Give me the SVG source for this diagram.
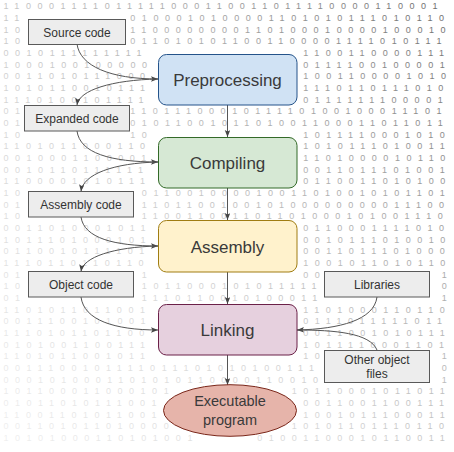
<svg xmlns="http://www.w3.org/2000/svg" width="454" height="452" viewBox="0 0 454 452">
<defs>
<linearGradient id="fade" gradientUnits="userSpaceOnUse" x1="0" y1="452" x2="454" y2="0">
<stop offset="0" stop-color="#f0f0f0"/>
<stop offset="0.4" stop-color="#d4d4d4"/>
<stop offset="0.7" stop-color="#a8a8a8"/>
<stop offset="1" stop-color="#6a6a6a"/>
</linearGradient>
<marker id="arr" markerUnits="userSpaceOnUse" markerWidth="8" markerHeight="7" refX="7" refY="2.75" orient="auto">
<path d="M0,0 L7,2.75 L0,5.5 L1.5,2.75 z" fill="#444"/>
</marker>
<style>
.bin{font-family:"Liberation Sans",Arial,sans-serif;font-size:9px;letter-spacing:6.53px;fill:url(#fade)}
.gbox{fill:#ededed;stroke:#595959;stroke-width:1}
.glbl{font-family:"Liberation Sans",Arial,sans-serif;font-size:12px;fill:#333;text-anchor:middle}
.big{font-family:"Liberation Sans",Arial,sans-serif;font-size:17px;fill:#3a3a3a;text-anchor:middle}
.ell{font-family:"Liberation Sans",Arial,sans-serif;font-size:14.5px;fill:#3a3a3a;text-anchor:middle}
.c{fill:none;stroke:#555;stroke-width:1;marker-end:url(#arr)}
.cn{fill:none;stroke:#555;stroke-width:1}
</style>
</defs>
<rect x="0" y="0" width="454" height="452" fill="#ffffff"/>
<g id="background">
<text class="bin" x="3.5" y="9.2">110001111011111000110011011110000110001</text>
<text class="bin" x="3.5" y="20.87">11</text><text class="bin" x="130.33" y="20.87">0100010100001101010111010110</text>
<text class="bin" x="3.5" y="32.54">10</text><text class="bin" x="130.33" y="32.54">1100000000110100010000100010</text>
<text class="bin" x="3.5" y="44.21">10</text><text class="bin" x="130.33" y="44.21">0110101011001100001111010111</text>
<text class="bin" x="3.5" y="55.88">0010111111111</text><text class="bin" x="303.28" y="55.88">1100110000111</text>
<text class="bin" x="3.5" y="67.55">1000100100000</text><text class="bin" x="303.28" y="67.55">0111100100001</text>
<text class="bin" x="3.5" y="79.22">0011010111000</text><text class="bin" x="303.28" y="79.22">1001100001010</text>
<text class="bin" x="3.5" y="90.89">1010110010111</text><text class="bin" x="303.28" y="90.89">1110110111010</text>
<text class="bin" x="3.5" y="102.56">1110100101111</text><text class="bin" x="303.28" y="102.56">0111111100001</text>
<text class="bin" x="3.5" y="114.23">01</text><text class="bin" x="130.33" y="114.23">1101110001011110100100011101</text>
<text class="bin" x="3.5" y="125.9">01</text><text class="bin" x="130.33" y="125.9">0101100101101001100011011011</text>
<text class="bin" x="3.5" y="137.57">10</text><text class="bin" x="130.33" y="137.57">10</text><text class="bin" x="303.28" y="137.57">1011110001010</text>
<text class="bin" x="3.5" y="149.24">1101011000110</text><text class="bin" x="303.28" y="149.24">1010111010011</text>
<text class="bin" x="3.5" y="160.91">0010001100001</text><text class="bin" x="303.28" y="160.91">1101000010110</text>
<text class="bin" x="3.5" y="172.58">0010110111111</text><text class="bin" x="303.28" y="172.58">0011011101001</text>
<text class="bin" x="3.5" y="184.25">1100001010111</text><text class="bin" x="303.28" y="184.25">0110011010100</text>
<text class="bin" x="3.5" y="195.92">10</text><text class="bin" x="141.86" y="195.92">011001000010011010010101101</text>
<text class="bin" x="3.5" y="207.59">01</text><text class="bin" x="141.86" y="207.59">110110010010100000000011100</text>
<text class="bin" x="3.5" y="219.26">10</text><text class="bin" x="141.86" y="219.26">110011001101101000101001110</text>
<text class="bin" x="3.5" y="230.93">0011010001011</text><text class="bin" x="303.28" y="230.93">0110001111010</text>
<text class="bin" x="3.5" y="242.6">1011101000101</text><text class="bin" x="303.28" y="242.6">0010111010010</text>
<text class="bin" x="3.5" y="254.27">0110010111101</text><text class="bin" x="303.28" y="254.27">0011011101000</text>
<text class="bin" x="3.5" y="265.94">1110110110110</text><text class="bin" x="303.28" y="265.94">1001011010110</text>
<text class="bin" x="3.5" y="277.61">01</text><text class="bin" x="141.86" y="277.61">1</text><text class="bin" x="303.28" y="277.61">00</text><text class="bin" x="441.64" y="277.61">1</text>
<text class="bin" x="3.5" y="289.28">10</text><text class="bin" x="141.86" y="289.28">1011000101011111</text><text class="bin" x="441.64" y="289.28">0</text>
<text class="bin" x="3.5" y="300.95">01</text><text class="bin" x="141.86" y="300.95">1110110010100011</text><text class="bin" x="441.64" y="300.95">1</text>
<text class="bin" x="3.5" y="312.62">1101011011001</text><text class="bin" x="303.28" y="312.62">1101000110110</text>
<text class="bin" x="3.5" y="324.29">0011100101001</text><text class="bin" x="303.28" y="324.29">0111011111011</text>
<text class="bin" x="3.5" y="335.96">1110101101100</text><text class="bin" x="303.28" y="335.96">0011001010111</text>
<text class="bin" x="3.5" y="347.63">0101001100111</text><text class="bin" x="303.28" y="347.63">1011110001101</text>
<text class="bin" x="3.5" y="359.3">1101011001011</text><text class="bin" x="303.28" y="359.3">10</text><text class="bin" x="441.64" y="359.3">1</text>
<text class="bin" x="3.5" y="370.97">0011100101111011101010100111</text><text class="bin" x="441.64" y="370.97">0</text>
<text class="bin" x="3.5" y="382.64">0001010001101010110000110010</text><text class="bin" x="441.64" y="382.64">1</text>
<text class="bin" x="3.5" y="394.31">101100011000101</text><text class="bin" x="291.75" y="394.31">10110001011011</text>
<text class="bin" x="3.5" y="405.98">01011010111001</text><text class="bin" x="303.28" y="405.98">0011001100111</text>
<text class="bin" x="3.5" y="417.65">11001101011001</text><text class="bin" x="303.28" y="417.65">1001011100011</text>
<text class="bin" x="3.5" y="429.32">001101011010000</text><text class="bin" x="291.75" y="429.32">10101101110110</text>
<text class="bin" x="3.5" y="440.99">10101000110101001</text><text class="bin" x="257.16" y="440.99">01001100010110011</text>
</g>
<g id="connectors">
<path class="c" d="M77,44 C80,66 110,79 158,79"/>
<path class="c" d="M158,79 C112,80 79,90 77,105"/>
<path class="c" d="M77,131 C80,153 110,162 158,162"/>
<path class="c" d="M158,162 C114,163 83,174 81,191.5"/>
<path class="c" d="M81,217 C84,238 114,246 158,246"/>
<path class="c" d="M158,246 C114,247 83,257 81,271.5"/>
<path class="c" d="M81,297 C84,320 114,330 158,330"/>
<path class="c" d="M377,297 C374,320 340,329 297,330"/>
<path class="cn" d="M377,350 C370,333 335,330 297,330"/>
<path class="c" d="M227.5,105 L227.5,137"/>
<path class="c" d="M227.5,188 L227.5,220"/>
<path class="c" d="M227.5,272 L227.5,304"/>
<path class="c" d="M227.5,355 L227.5,385"/>
</g>
<g id="source-code">
<rect class="gbox" x="28.5" y="19.5" width="97" height="25"/>
<text class="glbl" x="77" y="36.5">Source code</text>
</g>
<g id="preprocessing">
<rect x="158.5" y="54.5" width="138.5" height="50.5" rx="8" fill="#d0e2f4" stroke="#24538a" stroke-width="1"/>
<text class="big" x="227.5" y="86">Preprocessing</text>
</g>
<g id="expanded-code">
<rect class="gbox" x="24.5" y="105.5" width="105" height="25.5"/>
<text class="glbl" x="77" y="122.5">Expanded code</text>
</g>
<g id="compiling">
<rect x="158.5" y="137.5" width="138.5" height="50.5" rx="8" fill="#d6e8d4" stroke="#336a28" stroke-width="1"/>
<text class="big" x="227.5" y="169">Compiling</text>
</g>
<g id="assembly-code">
<rect class="gbox" x="28.5" y="191.5" width="105" height="25.5"/>
<text class="glbl" x="81" y="208.5">Assembly code</text>
</g>
<g id="assembly">
<rect x="158.5" y="220.5" width="138.5" height="51.5" rx="8" fill="#fff2cc" stroke="#a07d12" stroke-width="1"/>
<text class="big" x="227.5" y="252.5">Assembly</text>
</g>
<g id="object-code">
<rect class="gbox" x="28.5" y="271.5" width="105" height="25.5"/>
<text class="glbl" x="81" y="288.5">Object code</text>
</g>
<g id="libraries">
<rect class="gbox" x="324.5" y="271.5" width="105" height="25.5"/>
<text class="glbl" x="377" y="288.5">Libraries</text>
</g>
<g id="linking">
<rect x="158.5" y="304.5" width="138.5" height="50.5" rx="8" fill="#e6d0de" stroke="#6b2048" stroke-width="1"/>
<text class="big" x="227.5" y="336">Linking</text>
</g>
<g id="other-object-files">
<rect class="gbox" x="324.5" y="350.5" width="105" height="32"/>
<text class="glbl" x="377" y="364">Other object</text>
<text class="glbl" x="377" y="378">files</text>
</g>
<g id="executable-program">
<ellipse cx="230" cy="410.5" rx="66.5" ry="25.8" fill="#e6b4aa" stroke="#7a2619" stroke-width="1"/>
<text class="ell" x="230" y="406">Executable</text>
<text class="ell" x="230" y="424.5">program</text>
</g>
</svg>
